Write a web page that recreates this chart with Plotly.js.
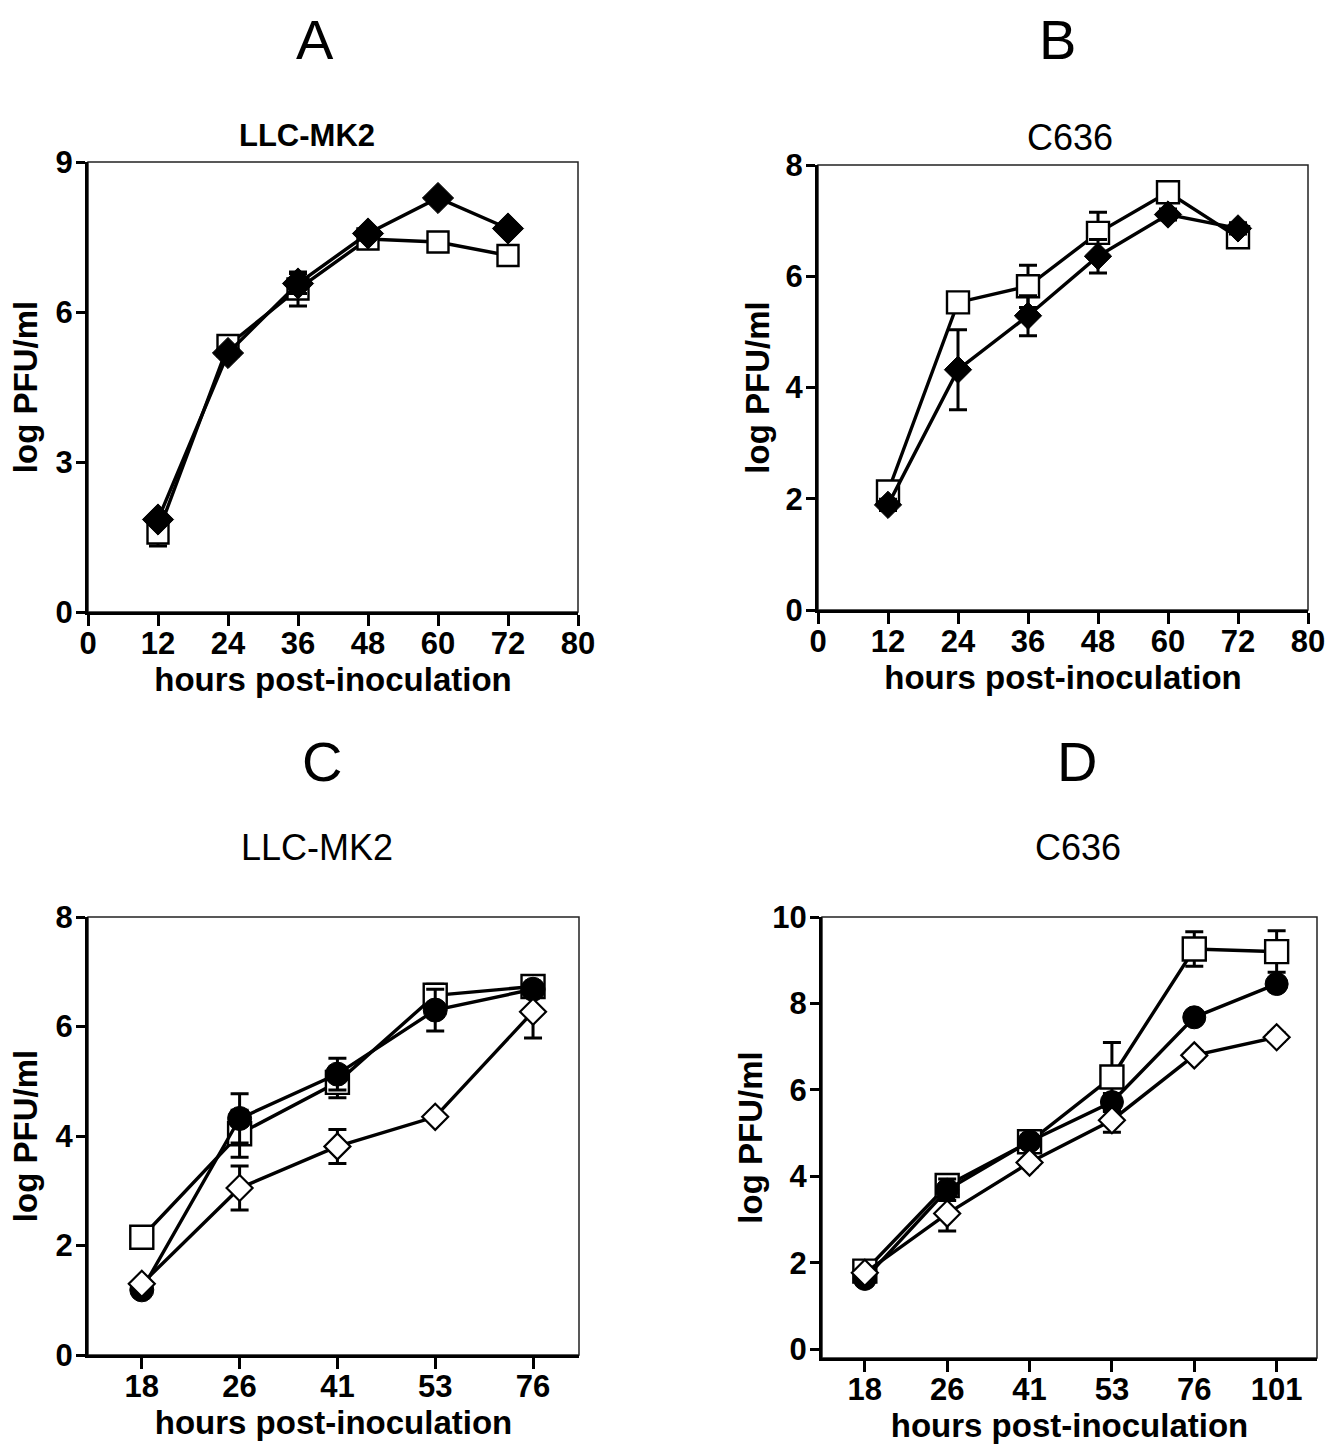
<!DOCTYPE html>
<html>
<head>
<meta charset="utf-8">
<script src="https://cdn.plot.ly/plotly-3.0.1.min.js"></script>
<style>html,body{margin:0;padding:0;background:#fff;}#chart{width:1342px;height:1444px;}</style>
</head>
<body>
<div id="chart"></div>
<script>
// ---- Data ----
const axisCatsAB = ["0","12","24","36","48","60","72","80"];
const hoursAB = ["12","24","36","48","60","72"];

const A_square = [1.58, 5.33, 6.46, 7.46, 7.40, 7.13];
const A_square_err = [0.26, 0.10, 0.34, 0.10, 0.05, 0.05];
const A_diamond = [1.85, 5.18, 6.57, 7.57, 8.28, 7.67];
const A_diamond_err = [0.10, 0.10, 0.20, 0.10, 0.05, 0.05];

const B_square = [2.13, 5.53, 5.82, 6.78, 7.51, 6.70];
const B_square_err = [0.10, 0.10, 0.38, 0.37, 0.10, 0.10];
const B_diamond = [1.89, 4.32, 5.29, 6.36, 7.11, 6.86];
const B_diamond_err = [0.10, 0.72, 0.36, 0.30, 0.10, 0.10];

const hoursC = ["18","26","41","53","76"];
const C_square = [2.15, 4.04, 4.98, 6.57, 6.73];
const C_square_err = [0.05, 0.43, 0.28, 0.20, 0.10];
const C_circle = [1.19, 4.32, 5.13, 6.30, 6.68];
const C_circle_err = [0.05, 0.45, 0.29, 0.38, 0.10];
const C_diamond = [1.30, 3.05, 3.81, 4.35, 6.27];
const C_diamond_err = [0.05, 0.40, 0.31, 0.05, 0.48];

const hoursD = ["18","26","41","53","76","101"];
const D_square = [1.81, 3.79, 4.80, 6.30, 9.26, 9.20];
const D_square_err = [0.10, 0.22, 0.15, 0.80, 0.40, 0.48];
const D_circle = [1.63, 3.69, 4.81, 5.72, 7.68, 8.45];
const D_circle_err = [0.05, 0.25, 0.10, 0.20, 0.10, 0.10];
const D_diamond = [1.77, 3.14, 4.32, 5.30, 6.80, 7.22];
const D_diamond_err = [0.05, 0.40, 0.10, 0.28, 0.10, 0.10];

const panelLetters = ["A","B","C","D"];
const panelTitles = ["LLC-MK2","C636","LLC-MK2","C636"];
const xTitle = "hours post-inoculation";
const yTitle = "log PFU/ml";

// ---- Helpers ----
const FONT = "Liberation Sans, Arial, sans-serif";
const W = 1342, H = 1444;
function px(x){return x/W;}
function py(y){return 1 - y/H;}

function trace(xa, ya, x, y, err, kind, size){
  let marker;
  if(kind==="square") marker={symbol:"square", size:size, color:"#ffffff", line:{color:"#000", width:2.4}};
  else if(kind==="diamond") marker={symbol:"diamond", size:size, color:"#000", line:{color:"#000", width:1}};
  else if(kind==="odiamond") marker={symbol:"diamond", size:size, color:"#ffffff", line:{color:"#000", width:2.2}};
  else marker={symbol:"circle", size:size, color:"#000", line:{color:"#000", width:1}};
  return {x:x, y:y, xaxis:xa, yaxis:ya, type:"scatter", mode:"lines+markers",
    line:{color:"#000", width:3.4}, marker:marker, cliponaxis:false,
    error_y:{type:"data", array:err, visible:true, color:"#000", thickness:3, width:9},
    showlegend:false, hoverinfo:"x+y"};
}

const data = [
  trace("x","y", hoursAB, A_square, A_square_err, "square", 21),
  trace("x","y", hoursAB, A_diamond, A_diamond_err, "diamond", 24),
  trace("x2","y2", hoursAB, B_square, B_square_err, "square", 22),
  trace("x2","y2", hoursAB, B_diamond, B_diamond_err, "diamond", 21),
  trace("x3","y3", hoursC, C_square, C_square_err, "square", 23),
  trace("x3","y3", hoursC, C_circle, C_circle_err, "circle", 24),
  trace("x3","y3", hoursC, C_diamond, C_diamond_err, "odiamond", 20),
  trace("x4","y4", hoursD, D_square, D_square_err, "square", 23),
  trace("x4","y4", hoursD, D_circle, D_circle_err, "circle", 23),
  trace("x4","y4", hoursD, D_diamond, D_diamond_err, "odiamond", 20)
];

const tickFont = {family:FONT, size:31, color:"#000", weight:"bold"};
const titleFont = {family:FONT, size:33, color:"#000", weight:"bold"};

function xax(domain, anchor, cats, range, standoff){
  return {domain:domain, anchor:anchor, type:"category", categoryorder:"array", categoryarray:cats,
    range:range, showgrid:false, zeroline:false, showline:true, linecolor:"#000", linewidth:3,
    ticks:"outside", ticklen:11, tickwidth:3, tickcolor:"#000", tickfont:tickFont, ticklabelstandoff:-9,
    title:{text:xTitle, font:titleFont, standoff:standoff}, fixedrange:true};
}
function yax(domain, anchor, range, dtick, standoff){
  return {domain:domain, anchor:anchor, range:range, dtick:dtick, tick0:0, showgrid:false, zeroline:false,
    showline:true, linecolor:"#000", linewidth:3, ticks:"outside", ticklen:9, tickwidth:3, tickcolor:"#000",
    tickfont:tickFont, ticklabelstandoff:-3, title:{text:yTitle, font:titleFont, standoff:standoff}, fixedrange:true};
}

const layout = {
  width:W, height:H, margin:{l:0,r:0,t:0,b:0}, paper_bgcolor:"#fff", plot_bgcolor:"#fff",
  font:{family:FONT, color:"#000"},
  xaxis: xax([px(88), px(578)], "y", axisCatsAB, [0,7], 6),
  yaxis: yax([py(612), py(162)], "x", [0,9], 3, 8),
  xaxis2: xax([px(818), px(1308)], "y2", axisCatsAB, [0,7], 6),
  yaxis2: yax([py(610), py(165)], "x2", [0,8], 2, 6),
  xaxis3: xax([px(88), px(579)], "y3", hoursC, [-0.55,4.47], 8),
  yaxis3: yax([py(1355), py(917)], "x3", [0,8], 2, 8),
  xaxis4: xax([px(822), px(1317)], "y4", hoursD, [-0.52,5.49], 6),
  yaxis4: yax([py(1358), py(917)], "x4", [-0.2,10], 2, 0),
  shapes: ["","2","3","4"].map(s => ({type:"rect", xref:"x"+s+" domain", yref:"y"+s+" domain",
    x0:0, x1:1, y0:0, y1:1, line:{color:"#222", width:1.5}, layer:"below"})),
  annotations: []
};

const letterPos = [[315,40],[1057,40],[322,762],[1077,762]];
const subPos = [[307,135],[1070,137],[317,847],[1078,847]];
panelLetters.forEach((t,i)=>{
  layout.annotations.push({text:t, xref:"paper", yref:"paper", x:px(letterPos[i][0]), y:py(letterPos[i][1]),
    xanchor:"center", yanchor:"middle", showarrow:false, font:{family:FONT, size:56, color:"#000"}});
});
panelTitles.forEach((t,i)=>{
  layout.annotations.push({text:t, xref:"paper", yref:"paper", x:px(subPos[i][0]), y:py(subPos[i][1]),
    xanchor:"center", yanchor:"middle", showarrow:false,
    font: i===0 ? {family:FONT, size:31, color:"#000", weight:"bold"} : {family:FONT, size:36, color:"#000"}});
});

Plotly.newPlot("chart", data, layout, {staticPlot:true, displayModeBar:false});
</script>
</body>
</html>
